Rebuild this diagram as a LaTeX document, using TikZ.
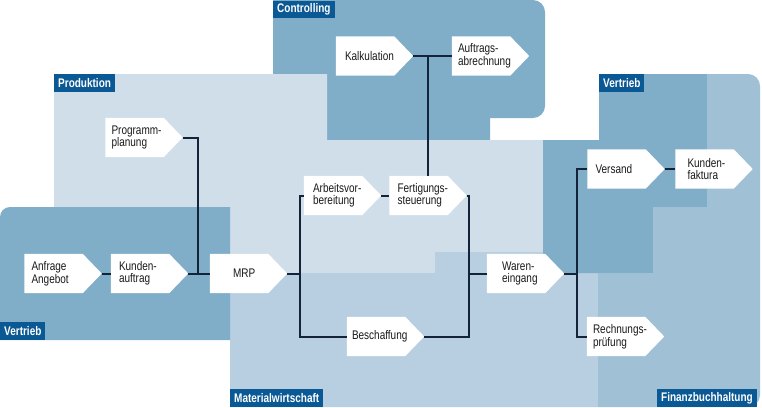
\documentclass[tikz,border=0pt]{standalone}
\usepackage{fontspec}
\setmainfont{Liberation Sans}[FakeStretch=0.8]
\usetikzlibrary{calc}
\definecolor{prodc}{HTML}{CFDEE9}
\definecolor{medc}{HTML}{80AEC8}
\definecolor{matc}{HTML}{B8CEE1}
\definecolor{finc}{HTML}{A0C0D6}
\definecolor{labc}{HTML}{0A5894}
\definecolor{linec}{HTML}{15233A}
\definecolor{txtc}{HTML}{1A1A1A}
\pgfdeclarelayer{regions}
\pgfdeclarelayer{boxes}
\pgfsetlayers{regions,boxes,main}
\begin{document}
\begin{tikzpicture}[x=1pt,y=-1pt,
  bx/.style={minimum width=77pt, minimum height=39pt, inner ysep=0pt, align=left,
    text=txtc, font=\fontsize{12.5}{11.5}\selectfont},
  lab/.style={fill=labc, text=white, font=\bfseries\fontsize{12.5}{12}\selectfont,
    inner xsep=4pt, inner ysep=0pt, minimum height=17.5pt},
  conn/.style={draw=linec, line width=2pt}]
\useasboundingbox (0,0) rectangle (762,407);

\begin{pgfonlayer}{regions}
% Controlling
\fill[medc] (273,0) -- (533,0) .. controls (539.6,0) and (545,5.4) .. (545,12)
  -- (545,106) .. controls (545,112.6) and (539.6,118) .. (533,118)
  -- (490,118) -- (490,140) -- (327,140) -- (327,74) -- (273,74) -- cycle;
% Produktion
\fill[prodc] (54,74) -- (327,74) -- (327,140) -- (543,140) -- (543,273) -- (54,273) -- cycle;
% Materialwirtschaft
\fill[matc] (230,273) -- (435,273) -- (435,252) -- (543,252) -- (543,273) -- (598,273)
  -- (598,407) -- (230,407) -- cycle;
% Vertrieb left
\fill[medc] (0,217) .. controls (0,211.5) and (4.5,207) .. (10,207) -- (230,207)
  -- (230,340) -- (0,340) -- cycle;
% Vertrieb right
\fill[medc] (599,74) -- (707,74) -- (707,207) -- (653,207) -- (653,273) -- (543,273)
  -- (543,140) -- (599,140) -- cycle;
% Finanzbuchhaltung
\fill[finc] (707,74) -- (748,74) .. controls (754.6,74) and (760,79.4) .. (760,86)
  -- (760,395) .. controls (760,401.6) and (754.6,407) .. (748,407)
  -- (598,407) -- (598,273) -- (653,273) -- (653,207) -- (707,207) -- cycle;
\end{pgfonlayer}

% area labels
\node[lab, anchor=north west] (lctrl) at (273,0.5) {Controlling};
\node[lab, anchor=north west] (lprod) at (54,74) {Produktion};
\node[lab, anchor=south west] (lvl) at (0,340) {Vertrieb};
\node[lab, anchor=south west] (lmat) at (230,407) {Materialwirtschaft};
\node[lab, anchor=north west] (lvr) at (599,74) {Vertrieb};
\node[lab, anchor=south east] (lfin) at (757,407) {Finanzbuchhaltung};

% process boxes
\node[bx, inner xsep=7pt, text width=63pt] (anf) at (63,273.5) {Anfrage\\Angebot};
\node[bx, inner xsep=8pt, text width=61pt] (kun) at (149.5,273.5) {Kunden-\\auftrag};
\node[bx, inner xsep=23pt, text width=31pt] (mrp) at (248.5,273.5) {MRP};
\node[bx, inner xsep=6pt, text width=65pt] (prog) at (144,137.5) {Programm-\\planung};
\node[bx, inner xsep=9pt, text width=59pt] (arb) at (342.5,195.5) {Arbeitsvor-\\bereitung};
\node[bx, inner xsep=8pt, text width=61pt] (fert) at (428,195.5) {Fertigungs-\\steuerung};
\node[bx, inner xsep=9pt, text width=59pt] (kalk) at (374.5,56) {Kalkulation};
\node[bx, inner xsep=6pt, text width=65pt] (auft) at (490.5,56) {Auftrags-\\abrechnung};
\node[bx, inner xsep=5pt, text width=67pt] (besch) at (385.5,336.5) {Beschaffung};
\node[bx, inner xsep=15pt, text width=47pt] (waren) at (525.5,273.5) {Waren-\\eingang};
\node[bx, inner xsep=8pt, text width=61pt] (vers) at (626,169) {Versand};
\node[bx, inner xsep=12pt, text width=53pt] (kfak) at (714,169) {Kunden-\\faktura};
\node[bx, inner xsep=6pt, text width=65pt] (rech) at (625.5,336.5) {Rechnungs-\\prüfung};

\begin{pgfonlayer}{boxes}
\foreach \n in {anf,kun,mrp,prog,arb,fert,kalk,auft,besch,waren,vers,kfak,rech}{
  \fill[white] (\n.north west) -- ([xshift=-19pt]\n.north east) -- (\n.east)
    -- ([xshift=-19pt]\n.south east) -- (\n.south west) -- cycle;
}
\end{pgfonlayer}

% junction coordinates
\coordinate (j1) at (198,273.5);
\coordinate (j2) at (300,273.5);
\coordinate (j3) at (469,273.5);
\coordinate (j4) at (577,273.5);

% connectors
\draw[conn] (anf.east) -- (kun.west);
\draw[conn] (kun.east) -- (mrp.west);
\draw[conn] (prog.east) -| (j1);
\draw[conn] (mrp.east) -- (j2);
\draw[conn] (arb.west) -| (j2) |- (besch.west);
\draw[conn] (arb.east) -- (fert.west);
\draw[conn] (fert.east) -| (j3) |- (besch.east);
\draw[conn] (j3) -- (waren.west);
\draw[conn] (kalk.east) -- (auft.west);
\draw[conn] (fert.north) -- (fert.north |- kalk.east);
\draw[conn] (waren.east) -- (j4);
\draw[conn] (vers.west) -| (j4) |- (rech.west);
\draw[conn] (vers.east) -- (kfak.west);
\end{tikzpicture}
\end{document}
